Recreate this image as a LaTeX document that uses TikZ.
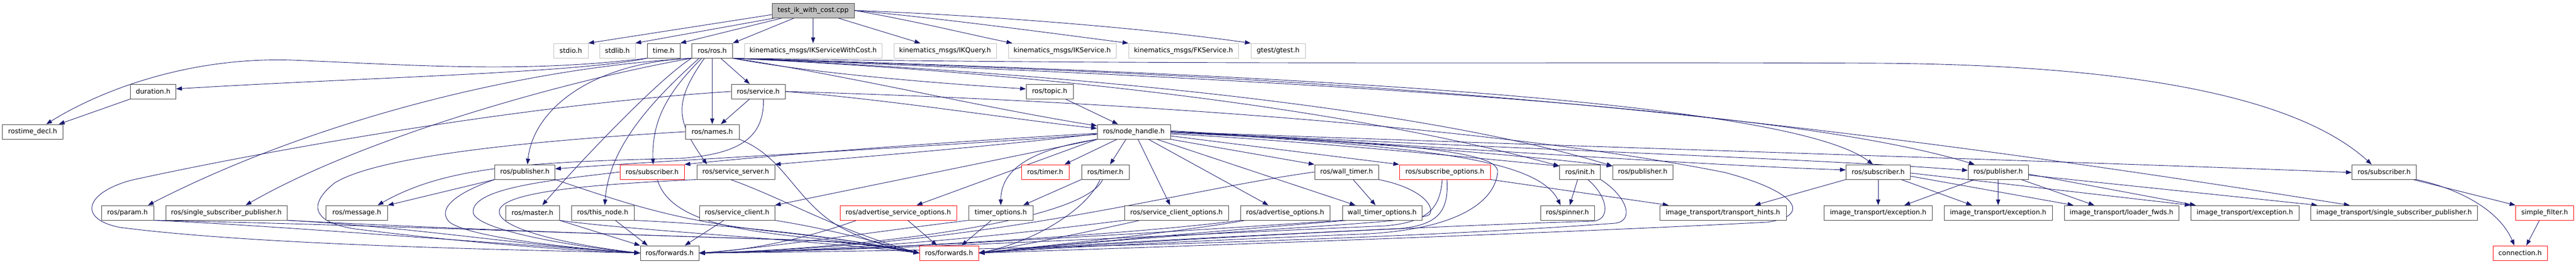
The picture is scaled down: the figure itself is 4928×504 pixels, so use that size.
\documentclass[tikz,border=0pt]{standalone}
\usepackage{fontspec}
\setmainfont{DejaVu Sans}
\usetikzlibrary{arrows.meta,backgrounds}
\definecolor{edgec}{HTML}{191970}
\definecolor{bordc}{HTML}{404040}
\definecolor{grayb}{HTML}{BFBFBF}
\definecolor{redb}{HTML}{FF0000}
\definecolor{fillg}{HTML}{BFBFBF}
\newcommand{\nfnt}{\fontsize{12.8pt}{15pt}\selectfont}
\tikzset{
 nb/.style={draw=bordc, line width=0.9pt, fill=white, minimum height=28pt, inner xsep=2pt, inner ysep=0pt, font=\nfnt, text=black},
 gb/.style={nb, draw=grayb},
 rb/.style={nb, draw=redb},
 ed/.style={draw=edgec, line width=0.9pt, -{Triangle[length=11pt,width=8pt]}},
}
\begin{document}
\begin{tikzpicture}[x=1pt,y=1pt]
\useasboundingbox (0,0) rectangle (4928,-504);
% row 0
\node[nb,fill=fillg,minimum width=157pt] (test) at (1555.5,-20) {test\_ik\_with\_cost.cpp};
% row 1
\node[gb,minimum width=66pt] (stdio) at (1092,-97) {stdio.h};
\node[gb,minimum width=68pt] (stdlib) at (1181,-97) {stdlib.h};
\node[nb,minimum width=63pt] (time) at (1269.5,-97) {time.h};
\node[nb,minimum width=78pt] (rosros) at (1362.5,-97) {ros/ros.h};
\node[gb,minimum width=263pt] (ikswc) at (1555.5,-97) {kinematics\_msgs/IKServiceWithCost.h};
\node[gb,minimum width=196pt] (ikq) at (1808,-97) {kinematics\_msgs/IKQuery.h};
\node[gb,minimum width=206pt] (iks) at (2032,-97) {kinematics\_msgs/IKService.h};
\node[gb,minimum width=210pt] (fks) at (2264,-97) {kinematics\_msgs/FKService.h};
\node[gb,minimum width=104pt] (gtest) at (2445,-97) {gtest/gtest.h};
% row 2
\node[nb,minimum width=87pt] (duration) at (293,-175) {duration.h};
\node[nb,minimum width=103pt] (service) at (1450.5,-175) {ros/service.h};
\node[nb,minimum width=90pt] (topic) at (2008,-175) {ros/topic.h};
% row 3
\node[nb,minimum width=116pt] (rtdecl) at (62.5,-252) {rostime\_decl.h};
\node[nb,minimum width=103pt] (names) at (1362.5,-252) {ros/names.h};
\node[nb,minimum width=140pt] (nh) at (2169,-252) {ros/node\_handle.h};
% row 4
\node[nb,minimum width=115pt] (pub1) at (1004,-329) {ros/publisher.h};
\node[rb,minimum width=123pt] (sub1) at (1247.5,-329) {ros/subscriber.h};
\node[nb,minimum width=149pt] (srvsrv) at (1407.5,-329) {ros/service\_server.h};
\node[rb,minimum width=91pt] (timerr) at (1999.5,-329) {ros/timer.h};
\node[nb,minimum width=91pt] (timer) at (2114.5,-329) {ros/timer.h};
\node[nb,minimum width=122pt] (wtimer) at (2576,-329) {ros/wall\_timer.h};
\node[rb,minimum width=174pt] (subopts) at (2764,-329) {ros/subscribe\_options.h};
\node[nb,minimum width=78pt] (init) at (3022.5,-329) {ros/init.h};
\node[nb,minimum width=115pt] (pub2) at (3142.5,-329) {ros/publisher.h};
\node[nb,minimum width=123pt] (sub2) at (3593,-329) {ros/subscriber.h};
\node[nb,minimum width=115pt] (pub3) at (3822.5,-329) {ros/publisher.h};
\node[nb,minimum width=123pt] (sub3) at (4561,-329) {ros/subscriber.h};
% row 5
\node[nb,minimum width=100pt] (param) at (244,-407) {ros/param.h};
\node[nb,minimum width=232pt] (sspub) at (433,-407) {ros/single\_subscriber\_publisher.h};
\node[nb,minimum width=118pt] (message) at (682.5,-407) {ros/message.h};
\node[nb,minimum width=103pt] (master) at (1018.5,-407) {ros/master.h};
\node[nb,minimum width=120pt] (thisnode) at (1153,-407) {ros/this\_node.h};
\node[nb,minimum width=144pt] (srvcli) at (1410,-407) {ros/service\_client.h};
\node[rb,minimum width=223pt] (advsrv) at (1718.5,-407) {ros/advertise\_service\_options.h};
\node[nb,minimum width=123pt] (timeropts) at (1914.5,-407) {timer\_options.h};
\node[nb,minimum width=199pt] (srvcliopts) at (2250.5,-407) {ros/service\_client\_options.h};
\node[nb,minimum width=171pt] (advopts) at (2458.5,-407) {ros/advertise\_options.h};
\node[nb,minimum width=152pt] (wtopts) at (2644,-407) {wall\_timer\_options.h};
\node[nb,minimum width=103pt] (spinner) at (2998.5,-407) {ros/spinner.h};
\node[nb,minimum width=242pt] (thints) at (3296,-407) {image\_transport/transport\_hints.h};
\node[nb,minimum width=207pt] (exc1) at (3593,-407) {image\_transport/exception.h};
\node[nb,minimum width=207pt] (exc2) at (3822.5,-407) {image\_transport/exception.h};
\node[nb,minimum width=219pt] (loader) at (4058.5,-407) {image\_transport/loader\_fwds.h};
\node[nb,minimum width=207pt] (exc3) at (4294.5,-407) {image\_transport/exception.h};
\node[nb,minimum width=319pt] (itssp) at (4580,-407) {image\_transport/single\_subscriber\_publisher.h};
\node[rb,minimum width=111pt] (sfilter) at (4868,-407) {simple\_filter.h};
% row 6
\node[nb,minimum width=112pt] (fwd1) at (1281,-484) {ros/forwards.h};
\node[rb,minimum width=113pt] (fwd2) at (1815.5,-484) {ros/forwards.h};
\node[rb,minimum width=104pt] (conn) at (4821,-484) {connection.h};

\begin{scope}[on background layer]
\fill[white] (0,0) rectangle (4928,-504);
% test
\draw[ed] ([yshift=-8pt]test.west) -- (stdio.north east);
\draw[ed] ([xshift=6pt]test.south west) -- (stdlib.north east);
\draw[ed] ([xshift=20pt]test.south west) -- (time.north east);
\draw[ed] ([xshift=43pt]test.south west) -- (rosros.north east);
\draw[ed] (test) -- (ikswc);
\draw[ed] (test) -- (ikq);
\draw[ed] (test.east) .. controls (1750,-40) and (1850,-65) .. ([xshift=8pt]iks.north west);
\draw[ed] (test.east) .. controls (1800,-35) and (2000,-62) .. (fks.north west);
\draw[ed] (test.east) .. controls (1900,-30) and (2200,-55) .. (gtest.north west);
% time
\draw[ed] (time.south west) .. controls (1100,-140) and (700,-148) .. ([yshift=5pt]duration.east);
\draw[ed] (time.south west) .. controls (1000,-140) and (800,-125) .. (560,-115) .. controls (350,-108) and (180,-180) .. ([xshift=26pt]rtdecl.north);
\draw[ed] (duration.south west) -- ([xshift=50pt]rtdecl.north);
% ros/ros.h
\draw[ed] (rosros) -- (names);
\draw[ed] (rosros) -- (service);
\draw[ed] ([xshift=-20pt]rosros.south) to[out=225,in=92] ([xshift=2pt]sub1.north);
\draw[ed] ([xshift=-15pt]rosros.south) to[out=235,in=125,looseness=1.3] ([xshift=-55pt]srvsrv.north);
\draw[ed] (rosros.south west) .. controls (1130,-120) and (1020,-210) .. ([xshift=5pt]pub1.north);
\draw[ed] (rosros.south west) .. controls (1260,-150) and (1100,-320) .. ([xshift=19pt]master.north);
\draw[ed] ([xshift=-25pt]rosros.south) .. controls (1250,-190) and (1165,-280) .. ([xshift=4pt]thisnode.north);
\draw[ed] (rosros.south west) .. controls (1000,-130) and (600,-230) .. ([xshift=39pt]param.north);
\draw[ed] (rosros.south west) .. controls (1100,-150) and (700,-260) .. ([xshift=37pt]sspub.north);
\draw[ed] (rosros.south east) .. controls (1550,-140) and (1800,-160) .. ([yshift=5pt]topic.west);
\draw[ed] (rosros.south east) .. controls (1600,-140) and (1900,-210) .. ([yshift=-3pt]nh.north west);
\draw[ed] (rosros.south east) .. controls (2200,-150) and (2700,-240) .. ([yshift=-3pt]init.north west);
\draw[ed] (rosros.south east) .. controls (2250,-150) and (2800,-230) .. ([yshift=-3pt]pub2.north west);
\draw[ed] (rosros.south east) .. controls (2400,-140) and (3420,-190) .. ([xshift=-10pt]sub2.north);
\draw[ed] (rosros.south east) .. controls (2400,-150) and (3400,-200) .. ([xshift=-45pt]pub3.north);
\draw[ed] (rosros.south east) .. controls (2200,-125) and (3000,-118) .. (3600,-121) .. controls (4100,-125) and (4400,-190) .. ([xshift=-24pt]sub3.north);
\draw[ed] (rosros.south east) .. controls (2400,-145) and (3100,-170) .. ([xshift=-85pt]itssp.north);
% service
\draw[ed] (service) -- (names);
\draw[ed] (service.east) .. controls (1700,-190) and (1950,-230) .. ([yshift=-8pt]nh.north west);
\draw[ed] ([xshift=10pt]service.south) .. controls (1462,-260) and (1420,-295) .. (1300,-303) .. controls (1000,-310) and (850,-320) .. ([xshift=40pt]message.north);
\draw[ed] (service.west) .. controls (1000,-200) and (500,-290) .. (250,-345) .. controls (160,-370) and (150,-420) .. (230,-435) .. controls (500,-470) and (1000,-478) .. (fwd1.west);
\draw[ed] (service.east) .. controls (2200,-195) and (2900,-250) .. (3300,-330) .. controls (3450,-370) and (3460,-415) .. (3380,-425) .. controls (3000,-445) and (2300,-470) .. (fwd2.east);
% topic
\draw[ed] (topic) -- (nh);
% names
\draw[ed] (names.west) .. controls (1000,-270) and (720,-300) .. (640,-350) .. controls (590,-390) and (595,-425) .. (680,-438) .. controls (900,-465) and (1100,-480) .. (fwd1.west);
\draw[ed] (names.south east) .. controls (1500,-300) and (1520,-380) .. (1600,-430) .. controls (1650,-460) and (1720,-478) .. (fwd2.west);
% row 4 left
\draw[ed] (pub1.south west) -- (message.north east);
\draw[ed] (pub1.south west) .. controls (870,-370) and (835,-400) .. (860,-425) .. controls (900,-455) and (1100,-475) .. (fwd1.west);
\draw[ed] (pub1.south east) .. controls (1200,-390) and (1300,-425) .. (1500,-445) .. controls (1650,-462) and (1720,-476) .. (fwd2.west);
\draw[ed] (sub1.west) .. controls (1050,-345) and (905,-360) .. (905,-405) .. controls (905,-440) and (1100,-472) .. (fwd1.west);
\draw[ed] ([xshift=10pt]sub1.south) .. controls (1280,-420) and (1400,-440) .. (1550,-455) .. controls (1650,-465) and (1720,-478) .. (fwd2.west);
\draw[ed] (srvsrv.south west) .. controls (1150,-352) and (955,-365) .. (955,-405) .. controls (955,-440) and (1100,-470) .. (fwd1.west);
\draw[ed] ([xshift=-10pt]srvsrv.south) .. controls (1500,-380) and (1600,-440) .. (fwd2.west);
% row 5 left
\draw[ed] (param.south east) .. controls (500,-430) and (900,-462) .. (fwd1.west);
\draw[ed] (param.south east) .. controls (700,-430) and (1200,-450) .. (1500,-458) .. controls (1650,-463) and (1720,-478) .. (fwd2.west);
\draw[ed] (sspub.south east) .. controls (800,-435) and (1000,-470) .. (fwd1.west);
\draw[ed] (sspub.south east) .. controls (900,-440) and (1300,-452) .. (1550,-460) .. controls (1680,-465) and (1720,-478) .. (fwd2.west);
\draw[ed] (master.south east) -- (fwd1.north west);
\draw[ed] (master.south east) .. controls (1200,-440) and (1500,-455) .. (fwd2.west);
\draw[ed] ([xshift=24pt]thisnode.south) -- ([xshift=-42pt]fwd1.north);
\draw[ed] (thisnode.south east) .. controls (1400,-430) and (1600,-452) .. (fwd2.west);
\draw[ed] ([xshift=-25pt]srvcli.south) -- ([xshift=29pt]fwd1.north);
\draw[ed] (srvcli.south east) .. controls (1600,-440) and (1700,-470) .. (fwd2.west);
\draw[ed] ([xshift=18pt]advsrv.south) -- ([xshift=-23pt]fwd2.north);
\draw[ed] ([xshift=-80pt]advsrv.south) .. controls (1560,-450) and (1450,-478) .. (fwd1.east);
\draw[ed] ([xshift=-18pt]timeropts.south) -- ([xshift=24pt]fwd2.north);
\draw[ed] (timeropts.south west) .. controls (1700,-440) and (1450,-476) .. (fwd1.east);
% timers and options
\draw[ed] (timer.south west) -- ([xshift=43pt]timeropts.north);
\draw[ed] ([xshift=-10pt]timer.south) .. controls (2080,-400) and (1980,-462) .. (fwd2.east);
\draw[ed] ([xshift=-5pt]timer.south) .. controls (2070,-430) and (1600,-478) .. (fwd1.east);
\draw[ed] (srvcliopts.south west) .. controls (2000,-440) and (1700,-478) .. (fwd1.east);
\draw[ed] ([xshift=-70pt]srvcliopts.south) .. controls (2100,-440) and (1950,-470) .. (fwd2.east);
\draw[ed] (advopts.south west) .. controls (2200,-445) and (1700,-478) .. (fwd1.east);
\draw[ed] ([xshift=10pt]advopts.south west) .. controls (2250,-445) and (2000,-470) .. (fwd2.east);
\draw[ed] (wtimer) -- (wtopts);
\draw[ed] (wtimer.south east) .. controls (2720,-360) and (2745,-395) .. (2735,-410) .. controls (2720,-428) and (2300,-440) .. (fwd2.east);
\draw[ed] (wtimer.west) .. controls (2250,-365) and (1900,-470) .. (fwd1.east);
\draw[ed] (wtopts.south west) .. controls (2300,-440) and (1700,-478) .. (fwd1.east);
\draw[ed] ([xshift=10pt]wtopts.south west) .. controls (2300,-445) and (2000,-470) .. (fwd2.east);
\draw[ed] ([xshift=-5pt]subopts.south) .. controls (2755,-400) and (2730,-425) .. (2650,-432) .. controls (2200,-452) and (1700,-478) .. (fwd1.east);
\draw[ed] ([xshift=4pt]subopts.south) .. controls (2772,-405) and (2750,-430) .. (2680,-437) .. controls (2300,-455) and (2000,-470) .. (fwd2.east);
\draw[ed] (subopts.south east) -- ([xshift=-104pt]thints.north);
% init
\draw[ed] (init) -- (spinner);
\draw[ed] ([xshift=15pt]init.south) .. controls (3075,-375) and (3082,-418) .. (3050,-423) .. controls (2700,-433) and (2100,-466) .. (fwd2.east);
\draw[ed] (init.south east) .. controls (3112,-375) and (3128,-422) .. (3090,-427) .. controls (2700,-456) and (2000,-478) .. (fwd1.east);
% node_handle
\draw[ed] ([xshift=-15pt]nh.south) -- (timer);
\draw[ed] ([xshift=-32pt]nh.south) -- ([xshift=37pt]timerr.north);
\draw[ed] ([xshift=8pt]nh.south) -- ([xshift=-12pt]srvcliopts.north);
\draw[ed] ([xshift=28pt]nh.south) -- ([xshift=-32pt]advopts.north);
\draw[ed] ([xshift=44pt]nh.south) -- ([xshift=-51pt]wtopts.north);
\draw[ed] (nh.south east) -- (wtimer.north west);
\draw[ed] ([yshift=-8pt]nh.east) -- (subopts.north west);
\draw[ed] ([yshift=-4pt]nh.east) .. controls (2500,-270) and (2800,-300) .. ([yshift=-3pt]init.north west);
\draw[ed] ([yshift=-2pt]nh.east) .. controls (2500,-265) and (2850,-290) .. ([yshift=-3pt]pub2.north west);
\draw[ed] (nh.east) .. controls (2700,-280) and (2940,-300) .. ([xshift=-13pt]spinner.north);
\draw[ed] ([yshift=2pt]nh.east) .. controls (2800,-285) and (3300,-318) .. ([yshift=4pt]sub2.west);
\draw[ed] (nh.east) .. controls (2900,-285) and (3500,-305) .. ([yshift=3pt]pub3.west);
\draw[ed] (nh.east) .. controls (3000,-280) and (4000,-310) .. ([yshift=-1pt]sub3.west);
\draw[ed] ([yshift=-5pt]nh.west) .. controls (1800,-280) and (1300,-305) .. ([yshift=6pt]pub1.east);
\draw[ed] ([yshift=-3pt]nh.west) .. controls (1800,-272) and (1500,-295) .. (sub1.north east);
\draw[ed] ([yshift=-4pt]nh.west) .. controls (1900,-280) and (1650,-300) .. (srvsrv.north east);
\draw[ed] (nh.south west) -- (srvcli.north east);
\draw[ed] (nh.south west) -- ([xshift=35pt]advsrv.north);
\draw[ed] (nh.south west) .. controls (1980,-285) and (1915,-320) .. (timeropts.north);
\draw[ed] (nh.east) .. controls (2700,-275) and (2870,-290) .. (2865,-330) .. controls (2860,-380) and (2800,-440) .. (2600,-448) .. controls (2300,-460) and (2000,-475) .. (fwd2.east);
% right cluster
\draw[ed] (sub2.south west) -- ([xshift=61pt]thints.north);
\draw[ed] (sub2) -- (exc1);
\draw[ed] ([xshift=44pt]sub2.south) -- ([xshift=-50pt]exc2.north);
\draw[ed] ([yshift=-8pt]sub2.east) -- ([xshift=-92pt]loader.north);
\draw[ed] ([yshift=-2pt]sub2.east) -- (exc3.north west);
\draw[ed] ([xshift=-45pt]pub3.south) -- ([xshift=50pt]exc1.north);
\draw[ed] (pub3) -- (exc2);
\draw[ed] ([xshift=44pt]pub3.south) -- ([xshift=-52pt]loader.north);
\draw[ed] ([yshift=-4pt]pub3.east) -- ([xshift=-94pt]exc3.north);
\draw[ed] ([yshift=-6pt]pub3.east) -- ([xshift=-147pt]itssp.north);
\draw[ed] ([xshift=55pt]sub3.south) -- (sfilter.north west);
\draw[ed] (sub3.south east) .. controls (4720,-365) and (4785,-410) .. ([xshift=-11pt]conn.north);
\draw[ed] ([xshift=-10pt]sfilter.south) -- ([xshift=12pt]conn.north);
\end{scope}
\end{tikzpicture}
\end{document}
